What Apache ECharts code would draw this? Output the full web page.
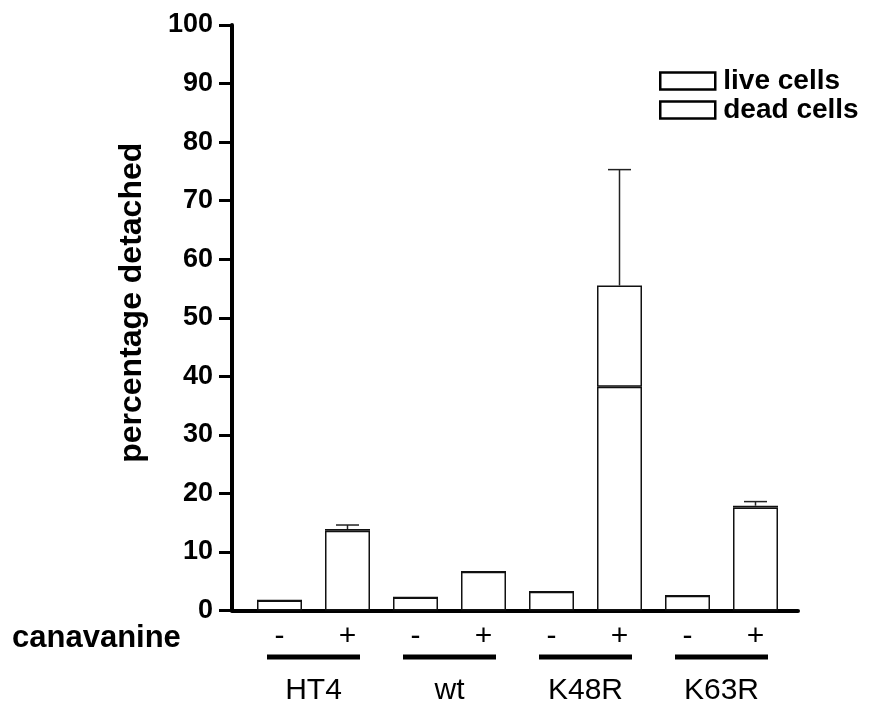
<!DOCTYPE html>
<html>
<head>
<meta charset="utf-8">
<script src="https://cdn.jsdelivr.net/npm/echarts@6/dist/echarts.min.js"></script>
<style>
html,body{margin:0;padding:0;background:#fff;}
#chart{width:873px;height:713px;}
</style>
</head>
<body>
<div id="chart"></div>
<script>
// ---- data ----
const groups = ['HT4', 'wt', 'K48R', 'K63R'];
const treatments = ['-', '+'];
const liveCells = [1.7, 13.6, 2.2, 6.6, 3.2, 38.2, 2.5, 17.6];
const deadCells = [0, 0.3, 0, 0, 0, 17.3, 0, 0.3];
const errorUp   = [null, 0.7, null, null, null, 19.8, null, 0.7];
const yMin = 0, yMax = 100, yStep = 10;
const seriesNames = ['live cells', 'dead cells'];

// ---- build ----
const categories = [];
groups.forEach(g => treatments.forEach(t => categories.push(g + '|' + t)));
const errData = [];
errorUp.forEach((e, i) => {
  if (e != null) {
    const tot = liveCells[i] + deadCells[i];
    errData.push([i, tot, tot + e]);
  }
});

const FONT = '"Liberation Sans", Arial, Helvetica, sans-serif';
const chart = echarts.init(document.getElementById('chart'), null, {renderer: 'canvas'});
chart.setOption({
  animation: false,
  backgroundColor: '#fff',
  textStyle: {fontFamily: FONT, color: '#000'},
  title: {
    text: 'canavanine', left: 12, top: 623, padding: 0,
    textStyle: {fontFamily: FONT, fontSize: 31, fontWeight: 'bold', color: '#000'}
  },
  legend: {
    data: seriesNames, orient: 'vertical', left: 659, top: 67, padding: 0,
    itemWidth: 55, itemHeight: 17, itemGap: 1, icon: 'rect',
    itemStyle: {color: '#fff', borderColor: '#000', borderWidth: 2.5},
    textStyle: {fontFamily: FONT, fontSize: 28, fontWeight: 'bold', color: '#000', lineHeight: 28, padding: [0, 0, 0, 3]}
  },
  grid: [
    {left: 245.5, right: 83.5, top: 25, bottom: 102.5, containLabel: false},
    {left: 232, right: 75, top: 25, bottom: 102.5, containLabel: false}
  ],
  xAxis: [
    {
      gridIndex: 0, type: 'category', data: categories, position: 'bottom',
      axisLine: {show: false}, axisTick: {show: false}, splitLine: {show: false},
      axisLabel: {
        interval: 0, margin: 11, fontSize: 30, color: '#000', fontFamily: FONT,
        formatter: v => v.split('|')[1]
      }
    },
    {
      gridIndex: 0, type: 'category', data: groups, position: 'bottom',
      axisLine: {show: false}, axisTick: {show: false}, splitLine: {show: false},
      axisLabel: {
        interval: 0, margin: 44,
        formatter: v => '{line| }\n{name|' + v + '}',
        rich: {
          line: {width: 93, height: 5, lineHeight: 5, backgroundColor: '#000', fontSize: 5},
          name: {fontSize: 30, lineHeight: 63, color: '#000', fontFamily: FONT}
        }
      }
    },
    {
      gridIndex: 1, type: 'value', min: 0, max: 1,
      axisLine: {show: true, onZero: false, lineStyle: {color: '#000', width: 4}},
      axisTick: {show: false}, axisLabel: {show: false}, splitLine: {show: false}
    }
  ],
  yAxis: [
    {gridIndex: 0, type: 'value', min: yMin, max: yMax, interval: yStep, show: false},
    {
      gridIndex: 1, type: 'value', min: yMin, max: yMax, interval: yStep,
      axisLine: {show: true, onZero: false, lineStyle: {color: '#000', width: 4}},
      axisTick: {show: true, length: 13, lineStyle: {color: '#000', width: 3}},
      axisLabel: {margin: 19, fontSize: 27, fontWeight: 'bold', color: '#000', fontFamily: FONT},
      splitLine: {show: false},
      name: 'percentage detached', nameLocation: 'middle', nameGap: 84,
      nameTextStyle: {fontSize: 32, fontWeight: 'bold', color: '#000', fontFamily: FONT, padding: [0, 0, 0, 30]}
    }
  ],
  series: [
    {
      name: seriesNames[0], type: 'bar', stack: 'cells', xAxisIndex: 0, yAxisIndex: 0,
      barWidth: 45, data: liveCells,
      itemStyle: {color: '#fff', borderColor: '#111', borderWidth: 1.5}
    },
    {
      name: seriesNames[1], type: 'bar', stack: 'cells', xAxisIndex: 0, yAxisIndex: 0,
      barWidth: 45, data: deadCells,
      itemStyle: {color: '#fff', borderColor: '#111', borderWidth: 1.5}
    },
    {
      name: 'error', type: 'custom', xAxisIndex: 0, yAxisIndex: 0, data: errData, z: 5,
      renderItem: function (params, api) {
        const base = api.coord([api.value(0), api.value(1)]);
        const top = api.coord([api.value(0), api.value(2)]);
        const half = 11.5;
        const st = {stroke: '#222', lineWidth: 1.5};
        return {
          type: 'group',
          children: [
            {type: 'line', shape: {x1: base[0], y1: base[1], x2: top[0], y2: top[1]}, style: st},
            {type: 'line', shape: {x1: top[0] - half, y1: top[1], x2: top[0] + half, y2: top[1]}, style: st}
          ]
        };
      }
    }
  ]
});
</script>
</body>
</html>
